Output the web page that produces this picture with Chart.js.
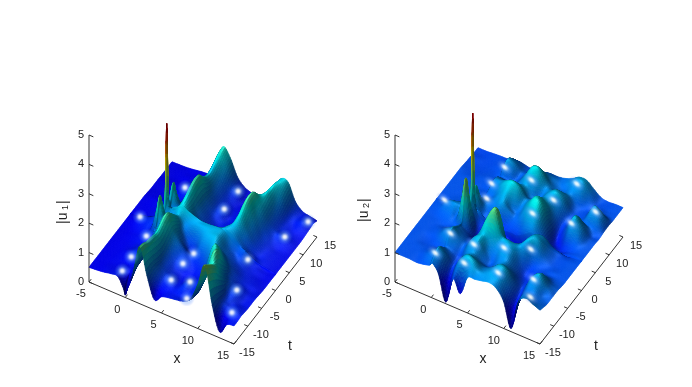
<!DOCTYPE html>
<html>
<head>
<meta charset="utf-8">
<script src="https://cdn.jsdelivr.net/npm/chart.js@4/dist/chart.umd.js"></script>
<style>
  html, body { margin: 0; padding: 0; background: #fff; }
  canvas { position: absolute; top: 0; }
  #panel1 { left: 0; }
  #panel2 { left: 346px; }
</style>
</head>
<body>
<canvas id="panel1" width="346" height="387"></canvas>
<canvas id="panel2" width="346" height="387"></canvas>
<script>
// Sample positions (finer around the spike at x=0, t=0)
const xValues = [-5,-4,-3,-2,-1,-0.2,0,0.2,1,2,3,4,5,6,7,8,9,10,11,12,13,14,15];
const tValues = [-15,-13.75,-12.5,-11.25,-10,-8.75,-7.5,-6.25,-5,-3.75,-2.5,-1.25,-0.25,0,0.25,1.25,2.5,3.75,5,6.25,7.5,8.75,10,11.25,12.5,13.75,15];

const xTicks = [-5,0,5,10,15];
const tTicks = [-15,-10,-5,0,5,10,15];
const zTicks = [0,1,2,3,4,5];

// |u1|, one row per t value
const u1Rows = [
  [.50,.52,.55,.60,.60,.25,.08,.25,.85,1.95,1.05,.35,.55,.62,.66,.72,.9,1.5,2.25,1.0,.2,.55,.62],
  [.50,.52,.55,.58,.62,.5,.42,.5,.95,1.9,1.1,.62,.6,.62,.64,.66,.82,1.4,2.1,1.0,.5,.62,.62],
  [.50,.52,.54,.56,.60,.58,.6,.65,1.0,1.8,1.1,.75,.68,.64,.72,.68,.8,1.35,1.95,.95,.68,.68,.64],
  [.50,.52,.54,.56,.58,.6,.62,.68,1.0,1.75,1.05,.78,.72,.62,.76,.7,.85,1.5,1.75,.9,.7,.66,.62],
  [.5,.52,.54,.58,.66,.7,.7,.72,1.05,1.7,1.0,.76,.66,.6,.7,.72,.95,1.75,1.5,.85,.72,.62,.6],
  [.5,.52,.54,.6,.72,.74,.76,.8,1.1,1.65,1.0,.76,.66,.6,.62,.74,1.1,1.9,1.25,.85,.74,.62,.6],
  [.5,.52,.54,.58,.68,.72,.76,.85,1.15,1.7,1.05,.8,.74,.66,.64,.8,1.5,1.75,1.05,.82,.72,.62,.6],
  [.5,.52,.54,.58,.64,.72,.8,.9,1.25,1.8,1.15,.88,.78,.7,.74,1.0,1.7,1.4,.95,.76,.66,.6,.58],
  [.5,.52,.55,.6,.68,.76,.9,1.0,1.4,1.85,1.25,.95,.78,.8,.92,1.2,1.45,1.1,.88,.72,.64,.6,.56],
  [.5,.52,.56,.62,.72,.9,1.2,1.1,1.3,1.7,1.2,.85,.7,1.0,1.15,1.3,1.15,.95,.8,.68,.62,.58,.55],
  [.5,.53,.6,.68,.8,1.7,1.95,1.7,1.15,1.5,1.1,.9,.95,1.2,1.3,1.32,1.05,.88,.76,.66,.6,.56,.55],
  [.5,.55,.68,.72,.82,1.15,1.3,1.2,1.1,1.35,1.15,1.2,1.25,1.3,1.32,1.3,1.02,.86,.82,.66,.6,.56,.55],
  [.5,.54,.66,.72,.88,1.35,1.9,1.4,1.25,1.45,1.35,1.3,1.28,1.3,1.32,1.3,1.1,.95,.92,.7,.6,.56,.55],
  [.5,.52,.6,.7,.92,1.6,4.1,1.6,1.35,1.5,1.4,1.32,1.27,1.27,1.3,1.3,1.15,.98,.9,.72,.62,.58,.55],
  [.5,.52,.58,.66,.88,1.3,1.9,1.35,1.25,1.5,1.38,1.28,1.2,1.2,1.25,1.32,1.2,1.0,.85,.7,.62,.58,.55],
  [.5,.52,.56,.62,.72,1.1,1.3,1.15,1.15,1.55,1.25,1.0,.95,.95,1.05,1.3,1.3,1.02,.8,.66,.62,.58,.55],
  [.5,.52,.55,.6,.68,1.6,1.8,1.55,1.1,1.65,1.15,.9,.78,.76,.88,1.2,1.5,1.15,.85,.68,.62,.58,.55],
  [.5,.52,.55,.58,.64,.8,.92,.95,1.05,1.75,1.15,.85,.7,.66,.76,1.1,1.65,1.2,.88,.7,.62,.58,.55],
  [.5,.52,.55,.58,.62,.7,.78,.85,1.05,1.82,1.15,.82,.68,.64,.7,1.05,1.8,1.3,.9,.72,.62,.58,.55],
  [.48,.5,.52,.55,.6,.66,.72,.8,1.0,1.8,1.15,.82,.72,.62,.68,1.0,1.85,1.35,.95,.74,.66,.6,.55],
  [.46,.48,.5,.55,.62,.66,.7,.76,.95,1.6,1.1,.8,.74,.62,.66,.95,1.8,1.45,.98,.76,.72,.62,.55],
  [.46,.48,.5,.55,.66,.7,.7,.74,.92,1.45,1.05,.78,.68,.6,.64,.88,1.55,1.5,1.0,.74,.66,.6,.55],
  [.46,.48,.5,.55,.68,.72,.7,.72,.9,1.4,1.05,.78,.64,.58,.62,.8,1.3,1.55,1.05,.74,.64,.6,.56],
  [.45,.46,.48,.52,.62,.66,.66,.7,.88,1.45,1.12,.8,.66,.56,.58,.75,1.15,1.55,1.15,.76,.64,.64,.58],
  [.45,.46,.48,.52,.58,.62,.62,.66,.88,1.55,1.25,.86,.72,.56,.56,.72,1.1,1.55,1.3,.8,.66,.7,.6],
  [.45,.46,.48,.5,.55,.58,.6,.64,.9,1.65,1.4,.9,.68,.56,.55,.7,1.05,1.5,1.4,.85,.66,.66,.62],
  [.45,.46,.47,.5,.54,.56,.58,.62,.88,1.7,1.45,.9,.64,.55,.54,.68,1.0,1.45,1.45,.9,.66,.6,.55]
];

// |u2|, one row per t value
const u2Rows = [
  [1.00,1.00,1.00,.98,1.02,1.08,1.15,1.18,.90,.05,.95,.55,1.20,1.25,1.30,1.35,1.25,.90,.10,1.10,1.35,1.25,1.15],
  [1.00,1.00,1.00,1.00,1.10,1.20,1.30,1.35,1.15,.60,1.20,1.40,1.45,1.35,1.35,1.40,1.35,1.00,.55,1.15,1.25,1.15,1.10],
  [1.00,1.00,1.00,1.02,1.15,1.30,1.40,1.40,1.20,.85,1.30,1.55,1.50,1.30,1.35,1.50,1.45,1.10,.75,1.15,1.20,1.10,1.05],
  [1.00,1.00,1.00,1.00,1.08,1.18,1.25,1.25,1.10,.92,1.25,1.40,1.30,1.20,1.30,1.50,1.45,1.10,.85,1.25,1.30,1.10,1.05],
  [1.00,1.00,.98,.98,1.00,1.05,1.10,1.12,1.05,.95,1.25,1.35,1.15,1.05,1.20,1.35,1.25,1.00,.90,1.35,1.50,1.20,1.05],
  [1.00,1.00,.98,1.00,1.12,1.25,1.30,1.28,1.15,1.05,1.40,1.50,1.20,1.05,1.25,1.30,1.10,.90,.90,1.25,1.40,1.15,1.05],
  [1.00,1.00,1.00,1.05,1.25,1.40,1.45,1.40,1.20,1.10,1.45,1.55,1.25,1.20,1.40,1.35,1.05,.85,.90,1.10,1.15,1.05,1.02],
  [1.00,1.00,1.00,1.05,1.20,1.30,1.35,1.30,1.15,1.05,1.35,1.60,1.50,1.40,1.50,1.40,1.10,.90,.95,1.00,1.00,1.00,1.00],
  [1.00,1.00,1.00,1.00,1.05,1.15,1.25,1.20,1.05,.95,1.35,1.95,2.20,1.55,1.45,1.40,1.30,1.05,1.00,.98,1.00,1.00,1.00],
  [1.00,1.00,1.02,1.05,1.05,1.15,1.35,1.25,.95,.75,1.10,1.90,2.10,1.20,1.15,1.30,1.50,1.30,1.10,1.00,.98,1.00,1.00],
  [1.00,1.02,1.10,1.15,1.2,2.3,2.55,2.2,1.0,.70,.80,1.25,1.25,.85,.85,1.15,1.50,1.45,1.15,1.00,.98,1.00,1.00],
  [1.00,1.05,1.25,1.30,1.25,1.4,1.6,1.4,.95,.8,.7,.8,.8,.65,.7,1.0,1.4,1.4,1.15,1.0,.98,1.0,1.0],
  [1.00,1.05,1.20,1.25,1.30,1.45,2.0,1.5,1.05,.9,.75,.75,.75,.65,.7,.95,1.25,1.3,1.1,1.0,.95,.98,1.0],
  [1.0,1.02,1.1,1.2,1.35,1.7,4.45,1.7,1.2,.95,.8,.8,.8,.75,.85,1.05,1.15,1.1,1.0,.95,.92,.98,1.0],
  [1.0,1.0,1.05,1.12,1.3,1.45,1.9,1.45,1.1,1.0,.85,.85,.9,.9,1.05,1.2,1.1,1.0,.9,.9,.95,1.0,1.0],
  [1.0,1.0,1.02,1.05,1.2,1.7,1.85,1.6,1.15,1.05,1.0,.95,1.0,1.05,1.3,1.4,1.15,.9,.8,.85,.95,1.0,1.0],
  [1.0,1.0,1.0,1.02,1.12,1.2,1.3,1.3,1.2,1.2,1.35,1.2,1.1,1.3,1.6,1.65,1.2,.8,.75,.95,1.05,1.02,1.0],
  [1.0,1.0,1.0,1.0,1.05,1.1,1.1,1.12,1.15,1.3,1.45,1.2,1.15,1.45,1.8,1.75,1.2,.75,.85,1.3,1.25,1.05,1.0],
  [1,1,1,1,1.02,1.05,1.08,1.1,1.15,1.4,1.6,1.45,1.25,1.5,1.75,1.6,1.15,.8,1.05,1.55,1.35,1.05,1.0],
  [1,1,1,1,1.0,1.05,1.15,1.2,1.3,1.55,1.7,1.6,1.3,1.4,1.55,1.45,1.15,.9,1.1,1.45,1.25,1.02,.98],
  [1,1,1,1,1.02,1.1,1.25,1.3,1.35,1.45,1.5,1.45,1.2,1.2,1.4,1.45,1.25,.98,1.0,1.1,1.1,1.1,1.0],
  [1,.98,.98,1,1.02,1.08,1.2,1.22,1.2,1.2,1.25,1.4,1.3,1.15,1.4,1.55,1.4,1.05,.98,1.05,1.35,1.3,1.02],
  [.98,.96,.96,.98,1,1.02,1.05,1.08,1.05,1.05,1.3,1.6,1.55,1.3,1.35,1.45,1.35,1.05,.98,1.05,1.45,1.3,1.02],
  [.96,.95,.95,.97,1.0,1.1,1.25,1.3,1.2,1.05,1.3,1.7,1.7,1.35,1.2,1.2,1.25,1.1,1.0,1.0,1.1,1.05,1.0],
  [.95,.95,.95,.97,1.02,1.15,1.35,1.4,1.3,1.1,1.2,1.45,1.45,1.25,1.15,1.15,1.3,1.3,1.1,1.0,1.0,1.0,1.0],
  [.93,.93,.95,.97,1.0,1.1,1.2,1.25,1.2,1.05,1.05,1.2,1.25,1.2,1.15,1.25,1.45,1.45,1.2,1.0,.98,1.0,1.0],
  [.93,.93,.95,.97,.98,1.02,1.05,1.05,1.05,1.0,1.0,1.05,1.1,1.1,1.15,1.25,1.4,1.4,1.2,1.02,.98,1.0,1.0]
];

// White highlights seen on the surfaces, as x, t of each spot
const u1SpotX = [-1,-3.3,-1.1,-1,-0.8,4.9,5,7.1,8.1,4.8,4.8,11.3,13.3,14.5,12.6,13.9,5.2];
const u1SpotT = [9.2,-1,-4.5,-10.2,-14,-7,-11.5,-10.2,-14,13.2,8.2,-0.3,7.8,13.1,-7.7,-12.9,-3.9];
const u2SpotX = [0.2,0.15,0.85,-3.4,-0.1,-0.1,3.2,3.7,6.6,8,4,7.9,9,6.8,11.6,13.2,9.5,12.2,13.3];
const u2SpotT = [11,6.4,2.8,-1.3,-7.8,-13.3,-8,-12.8,-6,-11.8,10.7,8.5,14,3.8,5.2,9.8,-3.9,-10,-14];

// Box projection, same for both panels apart from the origin
const boxX = [145, 62, 56];    // screen dx, dy, depth over the full x range
const boxT = [83, -107, -96];  // same for the full t range
const boxZ = [0, -147, 163];   // same for z = 0..5
const diffuseDir = [-0.45, 0.35, 0.82];
const specDir = [0.14, 0.37, 0.92];
const refine = 6; // mesh steps per cell when painting the surface

function project(origin, x, t, z) {
  const u = (x + 5) / 20, v = (t + 15) / 30, w = z / 5;
  return {
    x: origin[0] + u * boxX[0] + v * boxT[0],
    y: origin[1] + u * boxX[1] + v * boxT[1] + w * boxZ[1]
  };
}

function clamp(v) { return Math.max(0, Math.min(1, v)); }

function jet(v) {
  return [
    clamp(Math.min(4 * v - 1.5, -4 * v + 4.5)),
    clamp(Math.min(4 * v - 0.5, -4 * v + 3.5)),
    clamp(Math.min(4 * v + 0.5, -4 * v + 2.5))
  ];
}

// Cubic segment between samples, only used to paint a smooth skin over the read values
function slopes(xs, vals) {
  return vals.map((_, i) => {
    const a = Math.max(i - 1, 0), b = Math.min(i + 1, vals.length - 1);
    return (vals[b] - vals[a]) / (xs[b] - xs[a]);
  });
}

function skinAxis(xs) {
  const out = [];
  for (let i = 0; i < xs.length - 1; i++) {
    for (let k = 0; k < refine; k++) out.push({ i: i, s: k / refine });
  }
  out.push({ i: xs.length - 2, s: 1 });
  return out;
}

function evalSkin(xs, vals, m, p) {
  const h = xs[p.i + 1] - xs[p.i], s = p.s;
  const s2 = s * s, s3 = s2 * s;
  return (2*s3 - 3*s2 + 1) * vals[p.i] + (s3 - 2*s2 + s) * h * m[p.i]
       + (-2*s3 + 3*s2) * vals[p.i + 1] + (s3 - s2) * h * m[p.i + 1];
}

function buildSkin(rows) {
  const px = skinAxis(xValues), pt = skinAxis(tValues);
  const byX = rows.map(r => {
    const m = slopes(xValues, r);
    return px.map(p => evalSkin(xValues, r, m, p));
  });
  const zs = pt.map(() => new Array(px.length));
  px.forEach((_, c) => {
    const col = byX.map(r => r[c]);
    const m = slopes(tValues, col);
    pt.forEach((p, j) => { zs[j][c] = Math.max(0, evalSkin(tValues, col, m, p)); });
  });
  const xf = px.map(p => xValues[p.i] + p.s * (xValues[p.i + 1] - xValues[p.i]));
  const tf = pt.map(p => tValues[p.i] + p.s * (tValues[p.i + 1] - tValues[p.i]));
  return { xf, tf, zs };
}

function shade(z, zu, zv, cMax) {
  // tangents in view space, per unit of box
  const a = [boxX[0], -(boxX[1] + zu * boxZ[1] / 5), boxX[2] + zu * boxZ[2] / 5];
  const b = [boxT[0], -(boxT[1] + zv * boxZ[1] / 5), boxT[2] + zv * boxZ[2] / 5];
  let n = [a[1]*b[2] - a[2]*b[1], a[2]*b[0] - a[0]*b[2], a[0]*b[1] - a[1]*b[0]];
  const len = Math.hypot(n[0], n[1], n[2]) || 1;
  n = n.map(c => c / len);
  if (n[2] < 0) n = n.map(c => -c);
  const d = Math.max(0, n[0]*diffuseDir[0] + n[1]*diffuseDir[1] + n[2]*diffuseDir[2]);
  const h = Math.max(0, n[0]*specDir[0] + n[1]*specDir[1] + n[2]*specDir[2]);
  const spec = Math.pow(h, 20);
  const base = jet(z / cMax);
  const f = 0.38 + 0.6 * d;
  return 'rgb(' + base.map(c => Math.round(255 * Math.min(1, c * f + 0.1 * spec))).join(',') + ')';
}

const surfacePlugin = {
  id: 'surface',
  beforeDatasetsDraw(chart, args, opts) {
    const ctx = chart.ctx;
    const sx = chart.scales.x, sy = chart.scales.y;
    const { xf, tf, zs } = buildSkin(opts.rows);
    const off = document.createElement('canvas');
    off.width = chart.width; off.height = chart.height;
    const oc = off.getContext('2d');
    oc.lineWidth = 0.7;
    const toPx = (i, j) => {
      const p = project(opts.origin, xf[i], tf[j], zs[j][i]);
      return [sx.getPixelForValue(p.x), sy.getPixelForValue(p.y)];
    };
    const nx = xf.length - 1, nt = tf.length - 1;
    // far corner is x=-5, t=15, paint towards the viewer
    for (let i = 0; i < nx; i++) {
      for (let j = nt - 1; j >= 0; j--) {
        // normals over a slightly wider stencil so they stay smooth
        const i0 = Math.max(i - 1, 0), i1 = Math.min(i + 2, nx);
        const j0 = Math.max(j - 1, 0), j1 = Math.min(j + 2, nt);
        const zu = ((zs[j][i1] + zs[j+1][i1]) - (zs[j][i0] + zs[j+1][i0])) / 2 / ((xf[i1] - xf[i0]) / 20);
        const zv = ((zs[j1][i] + zs[j1][i+1]) - (zs[j0][i] + zs[j0][i+1])) / 2 / ((tf[j1] - tf[j0]) / 30);
        const zm = (zs[j][i] + zs[j][i+1] + zs[j+1][i] + zs[j+1][i+1]) / 4;
        const col = shade(zm, zu, zv, opts.cMax);
        const p = [toPx(i, j), toPx(i+1, j), toPx(i+1, j+1), toPx(i, j+1)];
        oc.fillStyle = col;
        oc.strokeStyle = col;
        oc.beginPath();
        oc.moveTo(p[0][0], p[0][1]);
        oc.lineTo(p[1][0], p[1][1]);
        oc.lineTo(p[2][0], p[2][1]);
        oc.lineTo(p[3][0], p[3][1]);
        oc.closePath();
        oc.fill();
        oc.stroke();
      }
    }
    ctx.save();
    ctx.filter = 'blur(0.7px)';
    ctx.drawImage(off, 0, 0);
    ctx.restore();
  },
  afterDatasetsDraw(chart, args, opts) {
    drawLabels(chart, opts);
  }
};

function drawLabels(chart, opts) {
  const ctx = chart.ctx;
  const sx = chart.scales.x, sy = chart.scales.y;
  const at = p => [sx.getPixelForValue(p.x), sy.getPixelForValue(p.y)];
  ctx.save();
  ctx.fillStyle = '#222';
  ctx.font = '11px "Liberation Sans", Arial, sans-serif';
  ctx.textBaseline = 'middle';
  ctx.textAlign = 'right';
  zTicks.forEach(z => {
    const p = at(project(opts.origin, -5, -15, z));
    ctx.fillText(String(z), p[0] - 5, p[1]);
  });
  ctx.textAlign = 'center';
  xTicks.forEach(x => {
    const p = at(project(opts.origin, x, -15, 0));
    ctx.fillText(String(x), p[0] - (x === 15 ? 11 : x === 10 ? 10 : 8), p[1] + 12);
  });
  tTicks.forEach(t => {
    const p = at(project(opts.origin, 15, t, 0));
    ctx.fillText(String(t), p[0] + 13, p[1] + 9);
  });
  ctx.font = '14px "Liberation Sans", Arial, sans-serif';
  const xl = at(project(opts.origin, 5, -15, 0));
  ctx.fillText('x', xl[0] + 15.5, xl[1] + 46);
  const tl = at(project(opts.origin, 15, 0, 0));
  ctx.fillText('t', tl[0] + 14.5, tl[1] + 56);
  // rotated |u1| style label with subscript
  ctx.translate(opts.zLabel[0], opts.zLabel[1]);
  ctx.rotate(-Math.PI / 2);
  ctx.textAlign = 'left';
  ctx.fillText('|u', -12, 0);
  ctx.font = '9px "Liberation Sans", Arial, sans-serif';
  ctx.fillText(opts.sub, 2, 3);
  ctx.font = '14px "Liberation Sans", Arial, sans-serif';
  ctx.fillText('|', 8, 0);
  ctx.restore();
}

// Soft white blob used as the point style of the highlights
function spotSprite(rx, ry) {
  const c = document.createElement('canvas');
  const r = Math.max(rx, ry);
  c.width = c.height = r * 2;
  const g = c.getContext('2d');
  g.translate(r, r);
  g.scale(rx / r, ry / r);
  const grad = g.createRadialGradient(0, 0, 0, 0, 0, r);
  grad.addColorStop(0, 'rgba(255,255,255,1)');
  grad.addColorStop(0.22, 'rgba(240,248,255,0.85)');
  grad.addColorStop(0.55, 'rgba(120,170,255,0.4)');
  grad.addColorStop(1, 'rgba(60,110,255,0)');
  g.fillStyle = grad;
  g.beginPath();
  g.arc(0, 0, r, 0, Math.PI * 2);
  g.fill();
  return c;
}

function axisLine(origin, a, b) {
  return {
    data: [project(origin, a[0], a[1], a[2]), project(origin, b[0], b[1], b[2])],
    showLine: true, borderColor: '#333', borderWidth: 1, pointRadius: 0
  };
}

function makePanel(id, rows, spotX, spotT, spotZ, sprite, spotAngle, origin, cMax, zLabel, sub) {
  const datasets = [];
  // the read values themselves, one hidden scatter row per t value
  rows.forEach((r, j) => {
    datasets.push({
      data: r.map((z, i) => project(origin, xValues[i], tValues[j], z)),
      showLine: false, pointRadius: 0
    });
  });
  // highlights
  datasets.push({
    data: spotX.map((x, i) => project(origin, x, spotT[i], spotZ)),
    showLine: false, pointStyle: sprite, pointRotation: spotAngle
  });
  // box axes and ticks
  datasets.push(axisLine(origin, [-5,-15,0], [-5,-15,5]));
  datasets.push(axisLine(origin, [-5,-15,0], [15,-15,0]));
  datasets.push(axisLine(origin, [15,-15,0], [15,15,0]));
  zTicks.forEach(z => datasets.push(axisLine(origin, [-5,-15,z], [-4.4,-15,z])));
  xTicks.forEach(x => datasets.push(axisLine(origin, [x,-15,0], [x,-14.2,0])));
  tTicks.forEach(t => datasets.push(axisLine(origin, [15,t,0], [14.5,t,0])));

  new Chart(document.getElementById(id), {
    type: 'scatter',
    data: { datasets },
    options: {
      responsive: false,
      animation: false,
      layout: { padding: 0, autoPadding: false },
      plugins: {
        legend: { display: false },
        tooltip: { enabled: false },
        surface: { rows, origin, cMax, zLabel, sub }
      },
      scales: {
        x: { type: 'linear', min: 0, max: 346, display: false },
        y: { type: 'linear', min: 0, max: 387, reverse: true, display: false }
      }
    },
    plugins: [surfacePlugin]
  });
}

makePanel('panel1', u1Rows, u1SpotX, u1SpotT, 0.7, spotSprite(8, 8), 0, [89, 282], 4.2, [63, 212], '1');
makePanel('panel2', u2Rows, u2SpotX, u2SpotT, 1.3, spotSprite(10, 6), 40, [49, 282], 4.7, [18, 210], '2');
</script>
</body>
</html>
